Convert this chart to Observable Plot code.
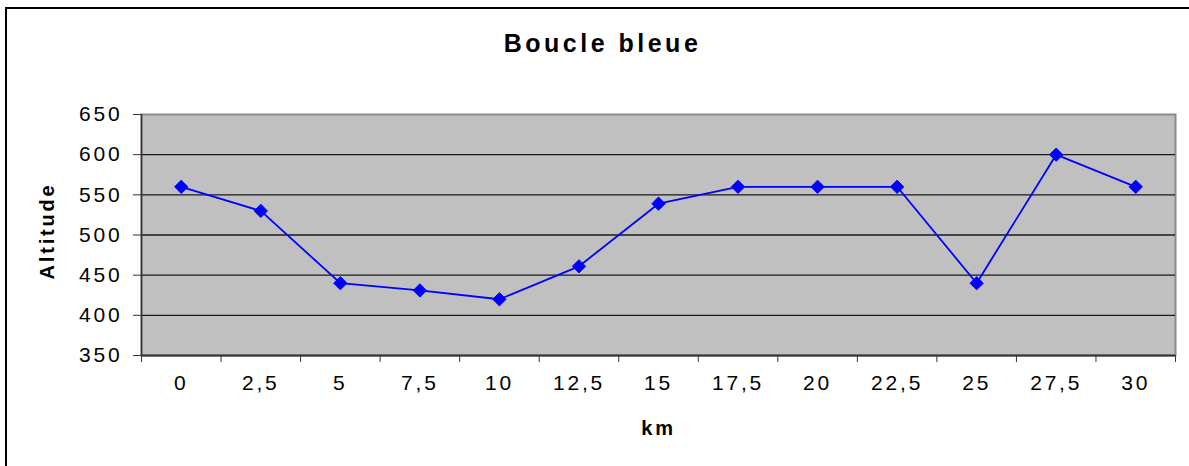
<!DOCTYPE html>
<html>
<head>
<meta charset="utf-8">
<script src="https://cdn.jsdelivr.net/npm/d3@7"></script>
<script src="https://cdn.jsdelivr.net/npm/@observablehq/plot@0.6"></script>
<style>
  html, body { margin: 0; padding: 0; background: #fff; }
  #wrap { position: relative; width: 1189px; height: 466px; overflow: hidden; }
  #border { position: absolute; left: 5px; top: 7px; width: 1300px; height: 600px;
            border-left: 2px solid #000; border-top: 2px solid #000; pointer-events: none; }
  svg text { letter-spacing: 2.8px; }
</style>
</head>
<body>
<div id="wrap"><div id="border"></div></div>
<script>
const title = "Boucle bleue";
const xLabel = "km";
const yLabel = "Altitude";
const km = [0, 2.5, 5, 7.5, 10, 12.5, 15, 17.5, 20, 22.5, 25, 27.5, 30];
const altitude = [560, 530, 440, 431, 420, 461, 539, 560, 560, 560, 440, 600, 560];
const yTicks = [350, 400, 450, 500, 550, 600, 650];
const gridLines = [400, 450, 500, 550, 600];

const data = km.map((k, i) => ({km: k, alt: altitude[i]}));
const step = km[1] - km[0];
const boundaries = km.map(k => k - step / 2).concat([km[km.length - 1] + step / 2]);
const fmt = d => String(d).replace(".", ",");

const chart = Plot.plot({
  width: 1189,
  height: 466,
  marginLeft: 141,
  marginRight: 14,
  marginTop: 114,
  marginBottom: 111,
  style: {fontFamily: "'Liberation Sans', Arial, sans-serif", fontSize: "21px", background: "transparent", overflow: "visible", color: "#000"},
  x: {type: "linear", domain: [boundaries[0], boundaries[boundaries.length - 1]]},
  y: {domain: [350, 650]},
  marks: [
    Plot.frame({fill: "#c0c0c0", stroke: "#8a8a8a", strokeWidth: 2}),
    Plot.ruleY(gridLines, {stroke: "#1a1a1a", strokeWidth: 1.3}),
    Plot.ruleX([boundaries[0]], {stroke: "#333", strokeWidth: 1.5}),
    Plot.ruleY([350], {stroke: "#333", strokeWidth: 2}),
    Plot.axisY(yTicks, {tickSize: 8, tickPadding: 11, stroke: "#333", label: null, tickFormat: d => String(d), fontSize: 21}),
    Plot.axisX(boundaries, {tickSize: 7, stroke: "#333", tickFormat: () => "", label: null}),
    Plot.axisX(km, {tickSize: 0, tickPadding: 20, tickFormat: fmt, label: null, fontSize: 21}),
    Plot.line(data, {x: "km", y: "alt", stroke: "#0000ff", strokeWidth: 1.8}),
    Plot.dot(data, {x: "km", y: "alt", symbol: "diamond2", r: 6, fill: "#0000ff", stroke: "#0000ff", strokeWidth: 1}),
    Plot.text([title], {frameAnchor: "top", dx: -56, dy: -80, fontWeight: "bold", fontSize: 25}),
    Plot.text([xLabel], {frameAnchor: "bottom", dy: 79, fontWeight: "bold", fontSize: 20}),
    Plot.text([yLabel], {frameAnchor: "left", textAnchor: "middle", dx: -94, dy: -4, rotate: -90, fontWeight: "bold", fontSize: 20})
  ]
});
d3.select(chart).selectAll("text").filter(function() { return this.textContent === title; }).style("letter-spacing", "3.5px");
document.getElementById("wrap").prepend(chart);
</script>
</body>
</html>
